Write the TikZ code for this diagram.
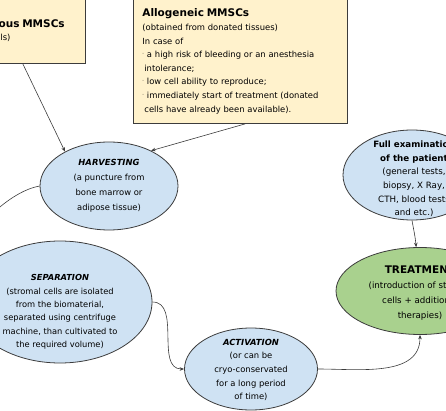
\documentclass[tikz,border=0pt]{standalone}
\usepackage{fontspec}
\setmainfont{DejaVu Sans}
\usetikzlibrary{positioning,arrows.meta,shapes.geometric,calc}
\definecolor{noteY}{HTML}{FFF2CC}
\definecolor{stepB}{HTML}{CFE2F3}
\definecolor{stepG}{HTML}{A9D18E}
\definecolor{edgeK}{HTML}{3C3C3C}
\newcommand{\dotb}{\raisebox{2.5pt}{\tiny\textperiodcentered}\hspace{3pt}}
\newcommand{\notehead}[1]{{\fontsize{10.5}{13.6}\selectfont\textbf{#1}}}

\begin{document}
\begin{tikzpicture}[x=1pt, y=-1pt,
  every node/.style={font=\fontsize{8.4}{13.6}\selectfont},
  note/.style={rectangle, draw=edgeK, line width=0.8pt, fill=noteY,
               align=left, inner xsep=9pt, anchor=north west},
  blob/.style={ellipse, draw=edgeK, line width=0.8pt, fill=stepB, inner sep=0pt},
  txt/.style={align=center, inner sep=0pt},
  flow/.style={-{Stealth[length=4.5pt,width=3.6pt]}, line width=0.6pt, edgeK}
]
  \useasboundingbox (0,0) rectangle (446,411);
  \clip (0,0) rectangle (446,411);

  % sources of the cells
  \node[note, text width=124pt, minimum height=65pt] (auto) at (-57,-2)
       {\notehead{Autologous MMSCs}\\(patient cells)};
  \node[note, text width=196pt, minimum height=124pt] (allo) at (133,-1)
       {\notehead{Allogeneic MMSCs}\\
        (obtained from donated tissues)\\
        In case of\\
        \dotb a high risk of bleeding or an anesthesia\\
        \hspace*{2pt}intolerance;\\
        \dotb low cell ability to reproduce;\\
        \dotb immediately start of treatment (donated\\
        \hspace*{2pt}cells have already been available).};

  % steps
  \node[blob, minimum width=138pt, minimum height=88pt] (harvest) at (109,186) {};
  \node[txt, font=\fontsize{8.4}{15}\selectfont] (harvest-t) at (harvest)
       {\textbf{\textit{HARVESTING}}\\(a puncture from\\bone marrow or\\adipose tissue)};
  \node[blob, minimum width=184pt, minimum height=122pt] (sep) at (60,302) {};
  \node[txt, font=\fontsize{8.3}{13.3}\selectfont] (sep-t) at ($(sep)+(0,10)$)
       {\textbf{\textit{SEPARATION}}\\(stromal cells are isolated\\from the biomaterial,\\
        separated using centrifuge\\machine, than cultivated to\\the required volume)};
  \node[blob, minimum width=133pt, minimum height=82pt] (act) at (251,369) {};
  \node[txt] (act-t) at ($(act)+(0,1)$)
       {\textbf{\textit{ACTIVATION}}\\(or can be\\cryo-conservated\\for a long period\\of time)};
  \node[blob, minimum width=138pt, minimum height=90pt] (exam) at (412,175) {};
  \node[txt, font=\fontsize{8.7}{13.6}\selectfont] (exam-t) at ($(exam)+(2,4)$)
       {\textbf{Full examination}\\\textbf{of the patient}\\(general tests,\\biopsy, X Ray,\\
        CTH, blood tests\\and etc.)};
  \node[blob, fill=stepG, minimum width=168pt, minimum height=87pt] (treat) at (420,291) {};
  \node[txt, font=\fontsize{8.7}{15}\selectfont] (treat-t) at ($(treat)+(0,2)$)
       {{\fontsize{10.5}{15}\selectfont\textbf{TREATMENT}}\\(introduction of stromal\\
        cells + additional\\therapies)};

  % connectors
  \draw[flow] ($(auto.south east)+(-63,0)$) -- (harvest.142);
  \draw[flow] ($(allo.south)+(5,0)$) -- (harvest.40);
  \draw[flow] (harvest.west) to[out=190,in=180] (sep.west);
  \draw[flow] (sep.east) to[out=0,in=180] (act.west);
  \draw[flow] (act.east) to[out=0,in=-90] (treat.south);
  \draw[flow] (exam.south) to[out=-80,in=95] (treat.95);
\end{tikzpicture}
\end{document}
